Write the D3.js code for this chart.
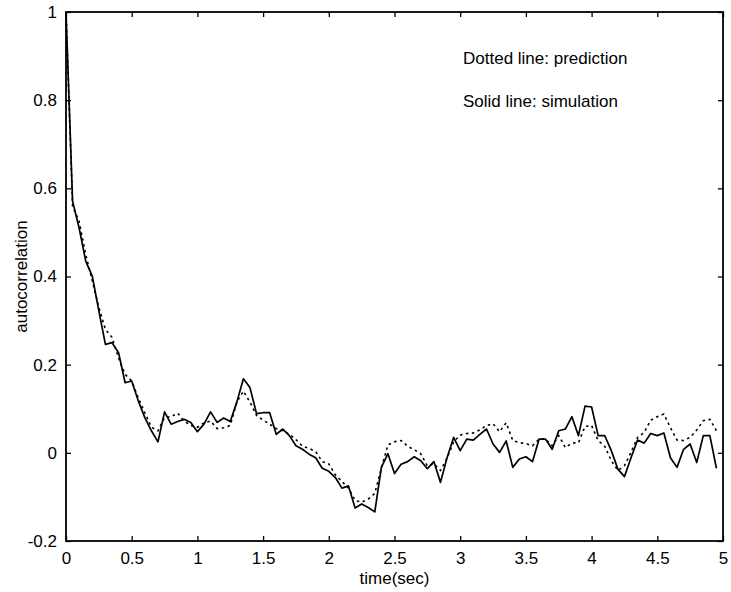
<!DOCTYPE html>
<html>
<head>
<meta charset="utf-8">
<script src="https://cdn.jsdelivr.net/npm/d3@7/dist/d3.min.js"></script>
<style>
  html, body { margin: 0; padding: 0; background: #fff; }
  text { font-family: "Liberation Sans", Arial, Helvetica, sans-serif; fill: #000; }
</style>
</head>
<body>
<svg id="chart" width="731" height="592"></svg>
<script>
// time step 0.05 s, samples t = 0 .. 4.95
const timeStep = 0.05;
const simulation = [
  1.0, 0.571, 0.510, 0.435, 0.401, 0.322, 0.246, 0.250, 0.227, 0.159,
  0.163, 0.118, 0.080, 0.050, 0.025, 0.093, 0.065, 0.071, 0.076, 0.069,
  0.048, 0.065, 0.093, 0.069, 0.079, 0.071, 0.115, 0.168, 0.148, 0.089,
  0.091, 0.091, 0.042, 0.054, 0.039, 0.016, 0.008, -0.003, -0.011, -0.035,
  -0.042, -0.056, -0.080, -0.075, -0.125, -0.116, -0.124, -0.134, -0.033, -0.002,
  -0.047, -0.026, -0.020, -0.009, -0.018, -0.036, -0.020, -0.067, -0.011, 0.035,
  0.005, 0.031, 0.029, 0.042, 0.054, 0.020, 0.001, 0.027, -0.033, -0.014,
  -0.009, -0.020, 0.031, 0.031, 0.008, 0.050, 0.054, 0.082, 0.039, 0.106,
  0.104, 0.039, 0.039, 0.005, -0.037, -0.054, -0.011, 0.029, 0.022, 0.044,
  0.039, 0.045, -0.011, -0.033, 0.008, 0.020, -0.022, 0.039, 0.039, -0.035
];
const prediction = [
  1.0, 0.560, 0.525, 0.450, 0.390, 0.330, 0.280, 0.262, 0.215, 0.178,
  0.163, 0.125, 0.091, 0.058, 0.050, 0.080, 0.082, 0.090, 0.072, 0.062,
  0.058, 0.068, 0.072, 0.055, 0.057, 0.062, 0.115, 0.140, 0.115, 0.085,
  0.074, 0.065, 0.055, 0.050, 0.042, 0.030, 0.015, 0.010, 0.003, -0.020,
  -0.025, -0.050, -0.065, -0.080, -0.108, -0.112, -0.105, -0.092, -0.035, 0.018,
  0.025, 0.028, 0.015, 0.007, -0.002, -0.030, -0.025, -0.040, -0.012, 0.025,
  0.040, 0.044, 0.045, 0.052, 0.062, 0.066, 0.048, 0.068, 0.028, 0.023,
  0.021, 0.016, 0.031, 0.031, 0.016, 0.039, 0.012, 0.022, 0.023, 0.060,
  0.062, 0.028, 0.015, -0.018, -0.040, -0.029, 0.001, 0.035, 0.046, 0.074,
  0.082, 0.088, 0.057, 0.029, 0.028, 0.035, 0.052, 0.073, 0.076, 0.050
];
const xTicks = [0, 0.5, 1, 1.5, 2, 2.5, 3, 3.5, 4, 4.5, 5];
const xTickLabels = ["0", "0.5", "1", "1.5", "2", "2.5", "3", "3.5", "4", "4.5", "5"];
const yTicks = [-0.2, 0, 0.2, 0.4, 0.6, 0.8, 1];
const yTickLabels = ["-0.2", "0", "0.2", "0.4", "0.6", "0.8", "1"];
const xLabel = "time(sec)";
const yLabel = "autocorrelation";
const legendLines = ["Dotted line: prediction", "Solid line: simulation"];

const svg = d3.select("#chart");
const L = 66, R = 723, T = 12, B = 541;
const x = d3.scaleLinear().domain([0, 5]).range([L, R]);
const y = d3.scaleLinear().domain([-0.2, 1]).range([B, T]);
const fs = 17;

const line = d3.line().x((d, i) => x(i * timeStep)).y(d => y(d));

svg.append("path").datum(prediction)
  .attr("d", line).attr("fill", "none").attr("stroke", "#000")
  .attr("stroke-width", 1.6).attr("stroke-dasharray", "2.5,3.5");
svg.append("path").datum(simulation)
  .attr("d", line).attr("fill", "none").attr("stroke", "#000")
  .attr("stroke-width", 1.7).attr("stroke-linejoin", "round");

// axes (ticks inward on all sides)
const tk = 5;
const axB = d3.axisBottom(x).tickValues(xTicks).tickFormat((d, i) => xTickLabels[i]).tickSizeInner(-tk).tickSizeOuter(0).tickPadding(11);
const axT = d3.axisTop(x).tickValues(xTicks).tickFormat("").tickSizeInner(-tk).tickSizeOuter(0);
const axL = d3.axisLeft(y).tickValues(yTicks).tickFormat((d, i) => yTickLabels[i]).tickSizeInner(-tk).tickSizeOuter(0).tickPadding(9);
const axR = d3.axisRight(y).tickValues(yTicks).tickFormat("").tickSizeInner(-tk).tickSizeOuter(0);

function style(g) {
  g.selectAll("path").remove();
  g.selectAll("line").attr("stroke", "#000").attr("stroke-width", 1.3);
  g.selectAll("text").style("font-size", fs + "px").attr("fill", "#000");
}
svg.append("g").attr("transform", `translate(0,${B})`).call(axB).call(style);
svg.append("g").attr("transform", `translate(0,${T})`).call(axT).call(style);
svg.append("g").attr("transform", `translate(${L},0)`).call(axL).call(style);
svg.append("g").attr("transform", `translate(${R},0)`).call(axR).call(style);

svg.append("rect").attr("x", L).attr("y", T).attr("width", R - L).attr("height", B - T)
  .attr("fill", "none").attr("stroke", "#000").attr("stroke-width", 1.8);

svg.append("text").attr("x", (L + R) / 2).attr("y", 584).attr("text-anchor", "middle")
  .style("font-size", fs + "px").text(xLabel);
svg.append("text").attr("transform", `translate(27,${(T + B) / 2}) rotate(-90)`)
  .attr("text-anchor", "middle").style("font-size", fs + "px").text(yLabel);

legendLines.forEach((t, i) => {
  svg.append("text").attr("x", 463).attr("y", 64 + i * 43)
    .style("font-size", fs + "px").text(t);
});
</script>
</body>
</html>
